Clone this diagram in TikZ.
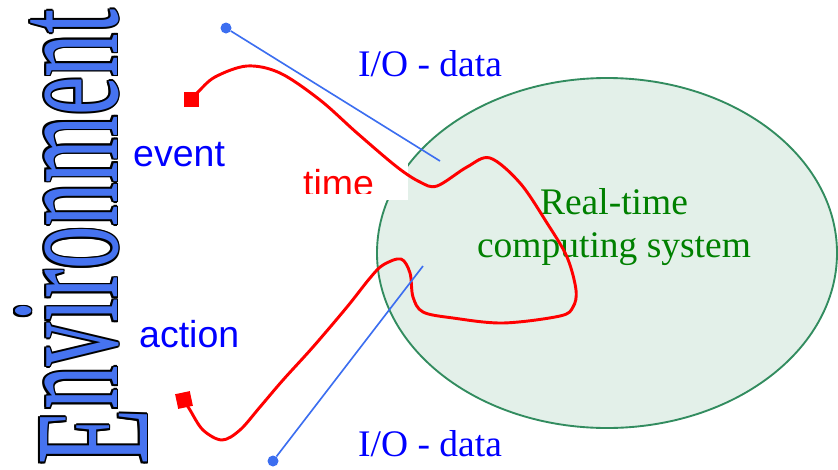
\documentclass[tikz,border=0pt]{standalone}
\usepackage{fontspec}
\setmainfont{Liberation Serif}
\setsansfont{Liberation Sans}
\usepackage{graphicx,xcolor}
\usetikzlibrary{shapes.geometric}

\definecolor{ioblue}{RGB}{60,110,240}
\definecolor{envblue}{RGB}{70,115,240}
\definecolor{sysfill}{RGB}{227,240,233}
\definecolor{sysline}{RGB}{50,140,95}
\definecolor{sysgreen}{RGB}{0,128,0}

% the big word down the left side
\newcommand{\envword}{\raisebox{-0.9cm}{\resizebox{1.65cm}{3.21cm}{E}}\resizebox{12cm}{3.06cm}{nvironment}}

\tikzset{
  lbl/.style={font=\fontsize{32}{36.7}\selectfont, inner sep=0pt},
  wordart/.style={rotate=90, anchor=base west, inner sep=0pt},
  redsq/.style={fill=red, inner sep=0pt, minimum size=0.45cm},
  iodot/.style={circle, fill=ioblue, inner sep=0pt, minimum size=0.33cm},
  ioline/.style={ioblue, line width=1.4pt},
  redpath/.style={red, line width=2.5pt, line cap=round, line join=round}
}

\begin{document}
\begin{tikzpicture}[x=0.03cm, y=-0.03cm]
\useasboundingbox (0,0) rectangle (838,469);

% system
\node[ellipse, draw=sysline, fill=sysfill, line width=1.6pt, inner sep=0pt,
      minimum width=13.8cm, minimum height=10.5cm] (sys) at (607,253) {};
\node[lbl, align=center, text=sysgreen, anchor=north] (sys-lbl) at (614,188.5) {Real-time\\computing system};

% time label on its white patch
\fill[white] (300,150) rectangle (408,200);
\begin{scope}
\clip (300,150) rectangle (408,193);
\node[lbl, font=\fontsize{32}{36.7}\sffamily, text=red, anchor=base west] (time) at (303,196.5) {time};
\end{scope}

% event -> system -> action
\node[redsq] (ev-sq) at (191,99) {};
\node[redsq, rotate=12] (ac-sq) at (184,400) {};
\draw[redpath] plot[smooth, tension=0.55] coordinates {(ev-sq.center) (198,92) (215,77) (247,66) (280,73)
  (320,100) (357,133) (397,167) (420,182) (437,186) (467,167) (490,158) (520,183) (547,223)
  (567,257) (576,290) (573,307) (560,316) (503,323) (453,318) (423,312) (413,297) (410,273)
  (401,259) (383,265) (370,278) (347,307) (313,347) (283,380) (260,407) (240,430) (222,440)
  (203,430) (190,410) (ac-sq.center)};

% I/O lines
\node[iodot] (io-top-dot) at (226,28) {};
\node[iodot] (io-bot-dot) at (273,461) {};
\coordinate (io-top-end) at (440,161);
\coordinate (io-bot-end) at (423,266);
\draw[ioline] (io-top-dot) -- (io-top-end);
\draw[ioline] (io-bot-dot) -- (io-bot-end);

\node[lbl, text=blue, anchor=base west] (io-top) at (358,76) {I/O - data};
\node[lbl, text=blue, anchor=base west] (io-bot) at (358,456) {I/O - data};
\node[lbl, font=\fontsize{32}{36.7}\sffamily, text=blue, anchor=base west] (event) at (133,166) {event};
\node[lbl, font=\fontsize{32}{36.7}\sffamily, text=blue, anchor=base west] (action) at (139,347) {action};

% Environment, outlined
\foreach \a in {0,45,...,315}
  \node[wordart, text=black] (env-edge-\a) at ([shift={(\a:1.8)}] 117,465) {\envword};
\node[wordart, text=envblue] (env) at (117,465) {\envword};
\end{tikzpicture}
\end{document}
